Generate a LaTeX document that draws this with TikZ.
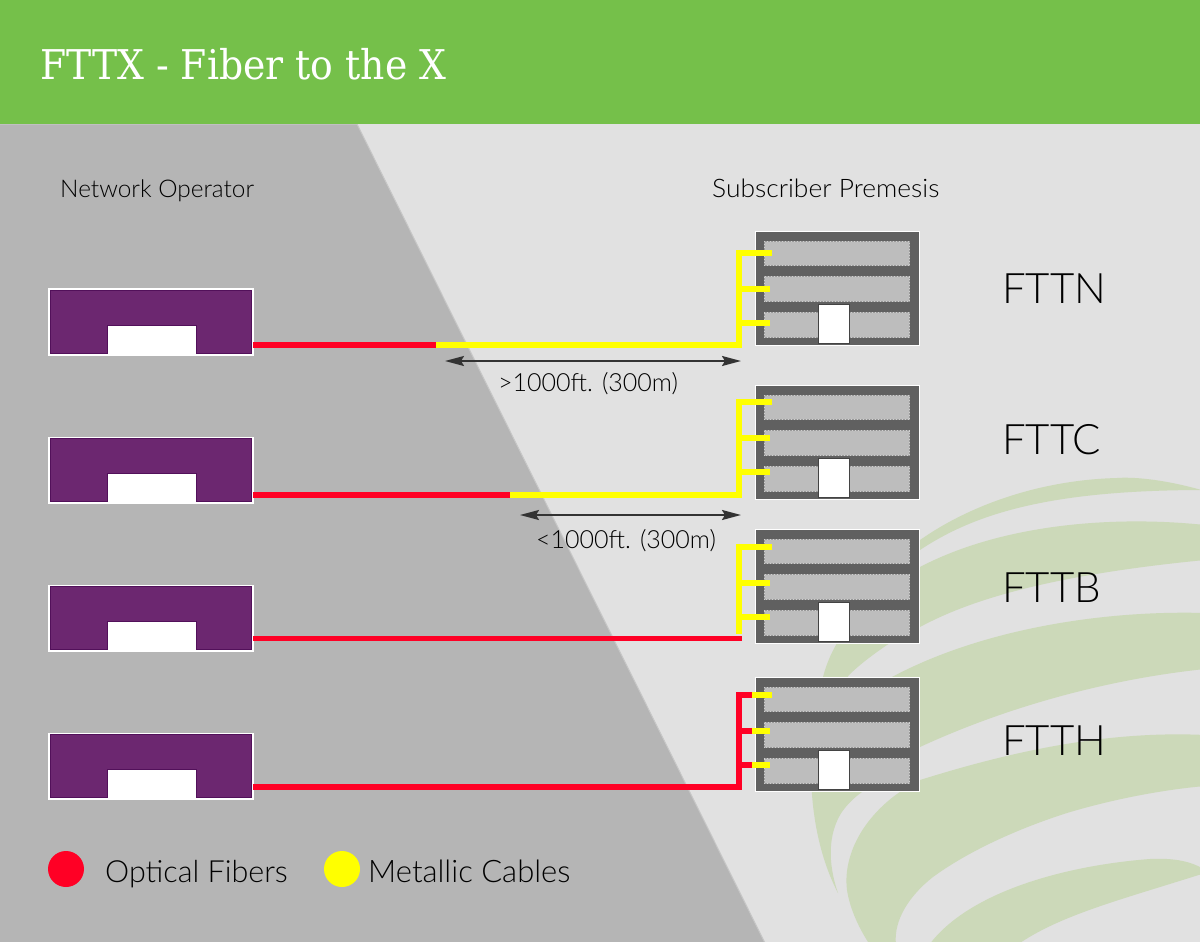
\documentclass[tikz,border=0pt]{standalone}
\usepackage{fontspec}
\setmainfont{Lato Light}
\newfontfamily\titlef{DejaVu Serif}
\usetikzlibrary{arrows.meta}
\definecolor{hdr}{HTML}{75C04A}
\definecolor{bgl}{HTML}{E1E1E1}
\definecolor{bgd}{HTML}{B5B5B5}
\definecolor{swo}{HTML}{CCD9B9}
\definecolor{bld}{HTML}{606060}
\definecolor{flr}{HTML}{BDBDBD}
\definecolor{flre}{HTML}{999999}
\definecolor{flrd}{HTML}{D0D0D0}
\definecolor{pur}{HTML}{6C2770}
\definecolor{purd}{HTML}{52105A}
\definecolor{fib}{HTML}{FF0025}
\definecolor{met}{HTML}{FFFF00}
\definecolor{arr}{HTML}{333333}
\tikzset{
 x=1pt,y=-1pt,
 swoosh/.style={fill=swo,draw=none},
 lbl/.style={inner sep=0pt,anchor=base west,text=black},
 fiber/.style={draw=fib,line width=5.6pt,line join=miter},
 metal/.style={draw=met,line width=5.6pt,line join=miter},
 dimline/.style={draw=arr,line width=2pt,{Stealth[length=19pt,width=10pt,inset=3pt]}-{Stealth[length=19pt,width=10pt,inset=3pt]}},
}
\newcommand{\floorbar}[2]{%
  \fill[flr,draw=flre,line width=.8pt] (764,#1) rectangle (909.5,#2);
  \draw[flrd,line width=.8pt,dash pattern=on 1pt off 2pt] (764,#1) rectangle (909.5,#2);}
\newcommand{\building}[1]{% top y
 \begin{scope}[shift={(0,#1)}]
  \fill[bld,draw=white,line width=1pt] (755,0) rectangle (919,114);
  \floorbar{10}{34.5}\floorbar{45.5}{70.5}\floorbar{81.5}{106}
  \fill[white,draw=bld!70!black,line width=1.3pt] (818.5,73.5) rectangle (849.5,112.5);
 \end{scope}}
\newcommand{\opbox}[1]{% top y
 \begin{scope}[shift={(0,#1)}]
  \fill[white] (48,0) rectangle (253.5,67.5);
  \fill[pur,draw=purd,line width=1pt] (50,2) -- (251.5,2) -- (251.5,65) -- (196,65) -- (196,37) -- (107,37) -- (107,65) -- (50,65) -- cycle;
 \end{scope}}
\begin{document}
\begin{tikzpicture}
\useasboundingbox (0,0) rectangle (1200,942);
\fill[bgl] (0,0) rectangle (1200,942);
\begin{scope}
 \clip (0,0) rectangle (1200,942);
 % swooshes
 \path[swoosh] (1205,491) .. controls (1160,478) and (1130,477) .. (1117,478) .. controls (1040,480) and (970,505) .. (920,540) .. controls (900,555) and (880,570) .. (860,590) -- (868,590) .. controls (885,575) and (900,562) .. (920,550) .. controls (980,510) and (1060,490) .. (1205,490) -- cycle;
 \path[swoosh] (1205,525) .. controls (1110,515) and (1000,525) .. (920,567) .. controls (875,590) and (835,630) .. (823,677) .. controls (805,740) and (805,830) .. (838,893) .. controls (830,870) and (826,840) .. (840,815) .. controls (846,805) and (855,797) .. (862,792) -- (848,676) .. controls (860,664) and (875,653) .. (890,643) .. controls (900,637) and (910,632) .. (920,627) .. controls (970,600) and (1050,575) .. (1205,560) -- cycle;
 \path[swoosh] (1205,613) .. controls (1100,610) and (980,630) .. (892,677) -- (860,760) -- (920,747) .. controls (1000,710) and (1100,680) .. (1205,669) -- cycle;
 \path[swoosh] (1205,735) .. controls (1100,730) and (1000,755) .. (920,780) .. controls (870,805) and (842,850) .. (847,890) .. controls (850,910) and (860,930) .. (870,945) -- (896,945) .. controls (893,920) and (910,895) .. (933,877) .. controls (970,850) and (1020,828) .. (1067,813) .. controls (1110,800) and (1160,790) .. (1205,786) -- cycle;
 \path[swoosh] (1205,870) .. controls (1190,860) and (1170,858) .. (1150,859) .. controls (1070,865) and (970,890) .. (929,945) -- (1017,945) .. controls (1060,915) and (1120,900) .. (1205,873) -- cycle;
\end{scope}
\fill[bgd,draw=bgd!60!bgl,line width=1pt] (-2,124) -- (357,124) -- (765.5,944) -- (-2,944) -- cycle;
\fill[hdr] (0,0) rectangle (1200,124);
\node[lbl,text=white,font=\titlef\fontsize{41}{45}\selectfont] (title) at (40,80) {\scalebox{.92}[1]{FTTX - Fiber to the X}};
\node[lbl,font=\fontsize{24.4}{28}\selectfont] (op) at (60,197) {Network Operator};
\node[lbl,font=\fontsize{25.5}{28}\selectfont] (sub) at (712,197) {\scalebox{1.035}[1]{Subscriber Premesis}};
\building{231}\building{385}\building{529}\building{677}
\opbox{288}\opbox{436.5}\opbox{584.5}\opbox{732.5}
% FTTN
\coordinate (na) at (253,345);\coordinate (nb) at (436,345);\coordinate (nc) at (739,345);
\coordinate (nt) at (739,253);\coordinate (n1) at (772,253);\coordinate (n2) at (770,289);\coordinate (n3) at (770,323);
\draw[fiber] (na) -- (nb);
\draw[metal] (nb) -- (nc) -- (nt) -- (n1);
\draw[metal] (n2) -- (n2-|nc);\draw[metal] (n3) -- (n3-|nc);
% FTTC
\coordinate (ca) at (253,495);\coordinate (cb) at (510,495);\coordinate (cc) at (739,495);
\coordinate (ct) at (739,402);\coordinate (c1) at (772,402);\coordinate (c2) at (770,438);\coordinate (c3) at (770,472);
\draw[fiber] (ca) -- (cb);
\draw[metal] (cb) -- (cc) -- (ct) -- (c1);
\draw[metal] (c2) -- (c2-|cc);\draw[metal] (c3) -- (c3-|cc);
% FTTB
\coordinate (ba) at (253,638.5);\coordinate (bc) at (742,638.5);
\coordinate (bd) at (739,634);\coordinate (bt) at (739,547);\coordinate (b1) at (772,547);\coordinate (b2) at (770,583);\coordinate (b3) at (770,617);
\draw[metal] (bd) -- (bt) -- (b1);
\draw[metal] (b2) -- (b2-|bt);\draw[metal] (b3) -- (b3-|bt);
\draw[fiber] (ba) -- (bc);
% FTTH
\coordinate (ha) at (253,787);\coordinate (hc) at (739,787);
\coordinate (ht) at (739,695);\coordinate (h1) at (752,695);\coordinate (h2) at (752,731);\coordinate (h3) at (752,765);
\coordinate (h1e) at (772,695);\coordinate (h2e) at (770,731);\coordinate (h3e) at (770,765);
\draw[fiber] (ha) -- (hc) -- (ht) -- (h1);
\draw[fiber] (h2) -- (h2-|hc);\draw[fiber] (h3) -- (h3-|hc);
\draw[metal] (h1) -- (h1e);\draw[metal] (h2) -- (h2e);\draw[metal] (h3) -- (h3e);
% dimensions
\coordinate (d1a) at (445,361);\coordinate (d1b) at (741,361);
\coordinate (d2a) at (520,515);\coordinate (d2b) at (741,515);
\draw[dimline] (d1a) -- (d1b);
\draw[dimline] (d2a) -- (d2b);
\node[lbl,font=\fontsize{25}{28}\selectfont] (l1) at (498,391) {>1000ft. (300m)};
\node[lbl,font=\fontsize{25}{28}\selectfont] (l2) at (536,548) {<1000ft. (300m)};
\node[lbl,font=\fontsize{42}{46}\selectfont] (fn) at (1002,303) {FTTN};
\node[lbl,font=\fontsize{42}{46}\selectfont] (fc) at (1002,454) {FTTC};
\node[lbl,font=\fontsize{42}{46}\selectfont] (fb) at (1002,602) {FTTB};
\node[lbl,font=\fontsize{42}{46}\selectfont] (fh) at (1002,755) {FTTH};
\node[circle,fill=fib,minimum size=36pt,inner sep=0pt] (lf) at (66,869) {};
\node[circle,fill=met,minimum size=36pt,inner sep=0pt] (lm) at (342,869) {};
\node[lbl,font=\fontsize{30.5}{34}\selectfont] (t1) at (105,882) {Optical Fibers};
\node[lbl,font=\fontsize{31}{34}\selectfont] (t2) at (368,882) {Metallic Cables};
\end{tikzpicture}
\end{document}
